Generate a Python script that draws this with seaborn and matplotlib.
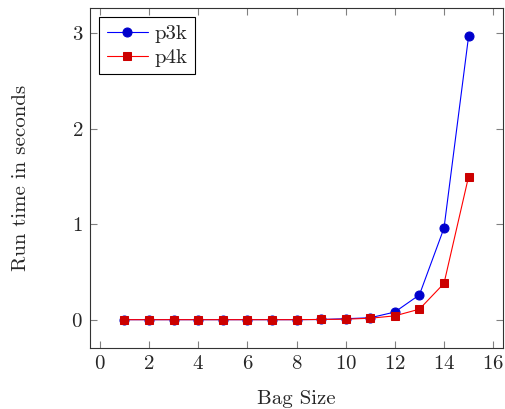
import matplotlib
matplotlib.use("Agg")
import matplotlib.pyplot as plt
import seaborn as sns
import pandas as pd

bag_size = [1, 2, 3, 4, 5, 6, 7, 8, 9, 10, 11, 12, 13, 14, 15]
p3k = [0.0, 0.0, 0.0, 0.0, 0.0, 0.0, 0.0, 0.0, 0.002, 0.01, 0.02, 0.08, 0.26, 0.96, 2.97]
p4k = [0.0, 0.0, 0.0, 0.0, 0.0, 0.0, 0.0, 0.0, 0.002, 0.005, 0.015, 0.04, 0.11, 0.38, 1.5]

sns.set_style("ticks")
plt.rcParams["font.family"] = ["serif"]
plt.rcParams["font.serif"] = ["cmr10", "DejaVu Serif"]
plt.rcParams["mathtext.fontset"] = "cm"
plt.rcParams["axes.formatter.use_mathtext"] = True

fs = 15
fig = plt.figure(figsize=(5.06, 4.09), dpi=100)
ax = fig.add_axes([90 / 506, 1 - 348 / 409, 413 / 506, 340 / 409])

df = pd.DataFrame({"bag": bag_size, "p3k": p3k, "p4k": p4k})
sns.lineplot(data=df, x="bag", y="p3k", ax=ax, color="blue", lw=0.8,
             marker="o", markersize=6.5, markerfacecolor="#0000cc",
             markeredgecolor="#0000cc", label="p3k")
sns.lineplot(data=df, x="bag", y="p4k", ax=ax, color="red", lw=0.8,
             marker="s", markersize=6, markerfacecolor="#cc0000",
             markeredgecolor="#cc0000", label="p4k")

ax.set_xlim(-0.4, 16.4)
ax.set_ylim(-0.297, 3.267)
ax.set_xticks(range(0, 17, 2))
ax.set_yticks([0, 1, 2, 3])
ax.tick_params(direction="in", top=True, right=True, length=5, width=0.8,
               color="#808080", labelsize=fs, pad=5)
for s in ax.spines.values():
    s.set_color("#333333")
    s.set_linewidth(0.8)

ax.set_xlabel("Bag Size", fontsize=fs, labelpad=12)
ax.set_ylabel("Run time in seconds", fontsize=fs, labelpad=30)

leg = ax.legend(loc="upper left", fontsize=fs, frameon=True, fancybox=False,
                edgecolor="black", framealpha=1, borderpad=0.35,
                handlelength=2.0, handletextpad=0.3, labelspacing=0.25,
                borderaxespad=0.45)
leg.get_frame().set_linewidth(0.8)

fig.savefig("out.png", dpi=100)
